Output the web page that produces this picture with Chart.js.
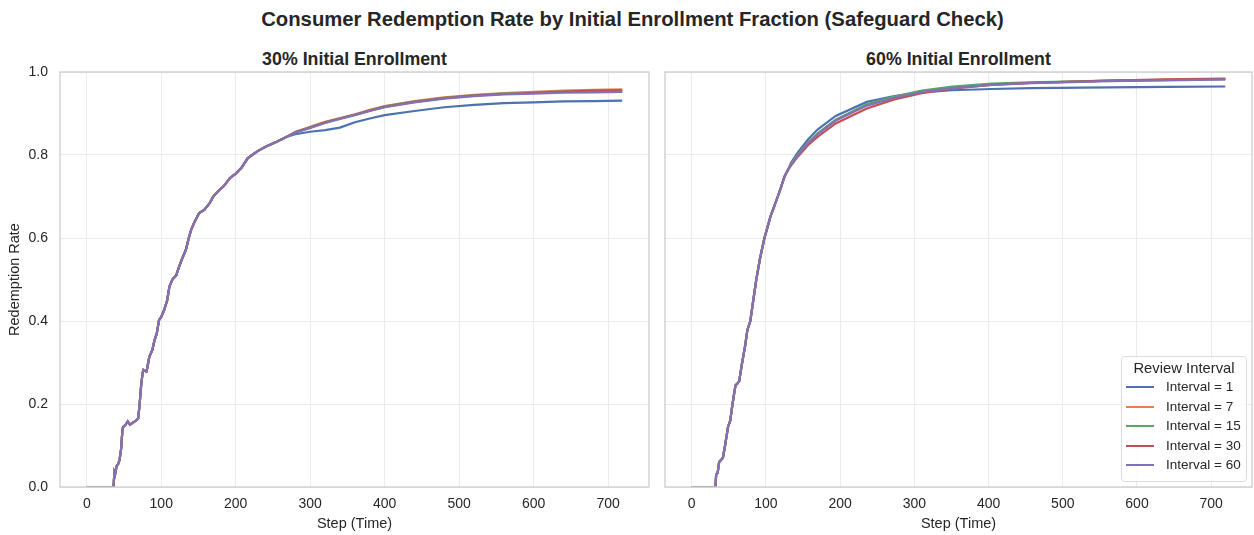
<!DOCTYPE html>
<html>
<head>
<meta charset="utf-8">
<script src="https://cdn.jsdelivr.net/npm/chart.js@4.4.1/dist/chart.umd.min.js"></script>
<style>
  html, body { margin: 0; padding: 0; background: #ffffff; }
  body { width: 1254px; height: 535px; position: relative; overflow: hidden;
         font-family: "Liberation Sans", Arial, sans-serif; color: #262626; }
  .abs { position: absolute; }
  #suptitle { left: 0; width: 1265px; top: 7px; text-align: center; font-weight: bold; font-size: 20.3px; line-height: 24px; }
  .subtitle { top: 48px; text-align: center; font-weight: bold; font-size: 17.8px; line-height: 22px; }
  #legend { left: 1121px; top: 356px; width: 126px; height: 126px; border: 1px solid #dcdcdc; border-radius: 4px;
            background: rgba(255,255,255,0.85); box-sizing: border-box; }
  #legend .ltitle { text-align: center; font-size: 14.8px; margin-top: 2px; line-height: 18px; }
  #legend .item { position: relative; height: 19.6px; font-size: 13.5px; line-height: 19.6px; }
  #legend .swatch { position: absolute; left: 4px; top: 9px; width: 28px; height: 2px; }
  #legend .lab { position: absolute; left: 44px; top: 0; white-space: nowrap; }
</style>
</head>
<body>
<div id="suptitle" class="abs">Consumer Redemption Rate by Initial Enrollment Fraction (Safeguard Check)</div>
<div class="abs subtitle" style="left:60px;width:589px;">30% Initial Enrollment</div>
<div class="abs subtitle" style="left:665px;width:587px;">60% Initial Enrollment</div>
<div class="abs" style="left:0;top:60px;width:652px;height:475px;"><canvas id="c1" width="652" height="475"></canvas></div>
<div class="abs" style="left:655px;top:60px;width:599px;height:475px;"><canvas id="c2" width="599" height="475"></canvas></div>
<div id="legend" class="abs"></div>
<script>
// ---------- DATA ----------
const seriesNames = ["Interval = 1", "Interval = 7", "Interval = 15", "Interval = 30", "Interval = 60"];
const seriesColors = ["#4C72B0", "#DD8452", "#55A868", "#C44E52", "#8172B3"];
const xTicks = [0, 100, 200, 300, 400, 500, 600, 700];
const yTicks = [0.0, 0.2, 0.4, 0.6, 0.8, 1.0];

// 30% enrollment: shared early rise
const p30EarlySteps = [0, 36, 37, 38, 40, 42, 44, 46, 48, 49, 52, 55, 58, 62, 66, 69, 71, 73, 75, 76, 80, 81, 84, 88, 91, 94, 97, 100, 104, 108, 111, 115, 120, 124, 128, 133, 137, 140, 145, 151, 158, 165, 170, 176, 184, 192, 200, 208, 216, 222, 230, 240, 255, 270];
const p30EarlyVals  = [0, 0, 0.035, 0.03, 0.05, 0.055, 0.065, 0.09, 0.14, 0.145, 0.15, 0.158, 0.15, 0.155, 0.16, 0.165, 0.2, 0.245, 0.275, 0.282, 0.278, 0.285, 0.314, 0.33, 0.354, 0.37, 0.402, 0.41, 0.427, 0.45, 0.483, 0.5, 0.51, 0.531, 0.55, 0.571, 0.6, 0.619, 0.64, 0.66, 0.668, 0.684, 0.7, 0.712, 0.725, 0.744, 0.755, 0.77, 0.792, 0.8, 0.81, 0.82, 0.832, 0.845];
// 30% enrollment: tails per interval
const p30TailSteps = [280, 300, 320, 340, 360, 380, 400, 440, 480, 520, 560, 600, 640, 680, 719];
const p30Tail_i1   = [0.850, 0.856, 0.860, 0.866, 0.879, 0.888, 0.896, 0.906, 0.915, 0.921, 0.925, 0.927, 0.929, 0.930, 0.931];
const p30Tail_i7   = [0.856, 0.868, 0.880, 0.889, 0.898, 0.909, 0.918, 0.930, 0.939, 0.945, 0.949, 0.952, 0.955, 0.957, 0.958];
const p30Tail_i15  = [0.855, 0.867, 0.878, 0.888, 0.897, 0.907, 0.917, 0.929, 0.938, 0.944, 0.948, 0.950, 0.952, 0.954, 0.955];
const p30Tail_i30  = [0.855, 0.866, 0.879, 0.888, 0.897, 0.907, 0.916, 0.928, 0.937, 0.943, 0.947, 0.950, 0.953, 0.955, 0.956];
const p30Tail_i60  = [0.854, 0.865, 0.877, 0.887, 0.896, 0.906, 0.915, 0.927, 0.936, 0.942, 0.946, 0.948, 0.950, 0.951, 0.952];

// 60% enrollment: shared early rise
const p60EarlySteps = [0, 32, 33, 35, 37, 42, 45, 49, 52, 55, 59, 62, 64, 68, 72, 75, 79, 83, 87, 92, 98, 102, 106, 111, 116, 120, 125, 130];
const p60EarlyVals  = [0, 0, 0.03, 0.034, 0.06, 0.07, 0.10, 0.145, 0.16, 0.20, 0.245, 0.25, 0.255, 0.30, 0.34, 0.378, 0.40, 0.45, 0.499, 0.55, 0.60, 0.625, 0.651, 0.675, 0.70, 0.72, 0.748, 0.765];
// 60% enrollment: tails per interval
const p60TailSteps = [134, 143, 157, 170, 194, 236, 273, 310, 351, 404, 457, 563, 640, 719];
const p60Tail_i1   = [0.782, 0.806, 0.838, 0.862, 0.894, 0.928, 0.942, 0.951, 0.956, 0.959, 0.961, 0.963, 0.964, 0.965];
const p60Tail_i7   = [0.778, 0.800, 0.830, 0.852, 0.884, 0.920, 0.939, 0.953, 0.962, 0.970, 0.974, 0.979, 0.981, 0.983];
const p60Tail_i15  = [0.778, 0.800, 0.830, 0.852, 0.885, 0.922, 0.941, 0.955, 0.965, 0.972, 0.975, 0.979, 0.981, 0.983];
const p60Tail_i30  = [0.775, 0.796, 0.824, 0.844, 0.876, 0.912, 0.934, 0.949, 0.960, 0.969, 0.974, 0.979, 0.982, 0.984];
const p60Tail_i60  = [0.777, 0.799, 0.829, 0.850, 0.883, 0.919, 0.938, 0.952, 0.961, 0.969, 0.973, 0.978, 0.980, 0.982];

// ---------- BUILD ----------
function pts(es, ev, ts, tv) {
  const out = es.map((s, i) => ({ x: s, y: ev[i] }));
  return out.concat(ts.map((s, i) => ({ x: s, y: tv[i] })));
}
const p30Tails = [p30Tail_i1, p30Tail_i7, p30Tail_i15, p30Tail_i30, p30Tail_i60];
const p60Tails = [p60Tail_i1, p60Tail_i7, p60Tail_i15, p60Tail_i30, p60Tail_i60];

function datasets(es, ev, ts, tails) {
  return seriesNames.map((n, i) => ({
    label: n,
    data: pts(es, ev, ts, tails[i]),
    borderColor: seriesColors[i],
    backgroundColor: seriesColors[i],
    borderWidth: 2.2,
    pointRadius: 0,
    tension: 0,
    fill: false,
    order: seriesNames.length - i
  }));
}

const FONT = "'Liberation Sans', Arial, sans-serif";
const TXT = "#262626";
const GRID = "#ebebeb";
const SPINE = "#cccccc";

const frame = {
  id: 'frame',
  afterDraw(chart) {
    const a = chart.chartArea, ctx = chart.ctx;
    ctx.save();
    ctx.strokeStyle = SPINE;
    ctx.lineWidth = 1.3;
    ctx.strokeRect(a.left, a.top, a.right - a.left, a.bottom - a.top);
    ctx.restore();
  }
};

function makeChart(id, ds, showY, padRight, yWidth) {
  return new Chart(document.getElementById(id), {
    type: 'line',
    data: { datasets: ds },
    plugins: [frame],
    options: {
      responsive: false,
      animation: false,
      events: [],
      layout: { padding: { top: 12, right: padRight, left: 0, bottom: 0 } },
      plugins: { legend: { display: false }, tooltip: { enabled: false }, title: { display: false } },
      scales: {
        x: {
          type: 'linear',
          min: -35.95, max: 754.95,
          afterBuildTicks: (ax) => { ax.ticks = xTicks.map(v => ({ value: v })); },
          afterFit: (ax) => { ax.height = 48; ax.paddingLeft = 0; ax.paddingRight = 0; },
          grid: { color: GRID, lineWidth: 1, drawTicks: false },
          border: { display: false },
          ticks: { color: TXT, font: { family: FONT, size: 14 }, padding: 9, maxRotation: 0 },
          title: { display: true, text: 'Step (Time)', color: TXT, font: { family: FONT, size: 14.5 }, padding: { top: 0, bottom: 2 } }
        },
        y: {
          type: 'linear',
          min: 0, max: 1,
          afterBuildTicks: (ax) => { ax.ticks = yTicks.map(v => ({ value: v })); },
          afterFit: (ax) => { ax.width = yWidth; ax.paddingTop = 0; ax.paddingBottom = 0; },
          grid: { color: GRID, lineWidth: 1, drawTicks: false },
          border: { display: false },
          ticks: { display: showY, color: TXT, font: { family: FONT, size: 14 }, padding: 12,
                   callback: (v) => Number(v).toFixed(1) },
          title: { display: showY, text: 'Redemption Rate', color: TXT, font: { family: FONT, size: 14.5 }, padding: { top: 6, bottom: 0 } }
        }
      }
    }
  });
}

makeChart('c1', datasets(p30EarlySteps, p30EarlyVals, p30TailSteps, p30Tails), true, 3, 60);
makeChart('c2', datasets(p60EarlySteps, p60EarlyVals, p60TailSteps, p60Tails), false, 2, 10);

// HTML legend from series arrays
const lg = document.getElementById('legend');
let h = '<div class="ltitle">Review Interval</div>';
seriesNames.forEach((n, i) => {
  h += '<div class="item"><div class="swatch" style="background:' + seriesColors[i] + '"></div><div class="lab">' + n + '</div></div>';
});
lg.innerHTML = h;
</script>
</body>
</html>
